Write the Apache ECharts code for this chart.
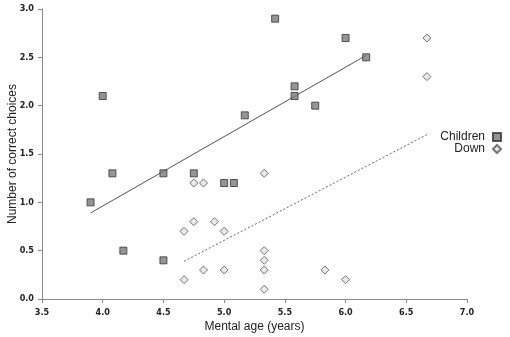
<!DOCTYPE html>
<html>
<head>
<meta charset="utf-8">
<script src="https://cdn.jsdelivr.net/npm/echarts@6/dist/echarts.min.js"></script>
<style>
  html, body { margin: 0; padding: 0; background: #fff; }
  #chart { width: 510px; height: 337px; }
</style>
</head>
<body>
<div id="chart"></div>
<script>
// children: [mental age, correct choices]
const childrenPts = [
  [3.9, 1.0], [4.0, 2.1], [4.08, 1.3], [4.17, 0.5], [4.5, 1.3], [4.5, 0.4],
  [4.75, 1.3], [5.0, 1.2], [5.08, 1.2], [5.17, 1.9], [5.42, 2.9], [5.58, 2.1],
  [5.58, 2.2], [5.75, 2.0], [6.0, 2.7], [6.17, 2.5]
];
// Down syndrome group
const downPts = [
  [4.67, 0.7], [4.67, 0.2], [4.75, 1.2], [4.75, 0.8], [4.83, 1.2], [4.83, 0.3],
  [4.92, 0.8], [5.0, 0.7], [5.0, 0.3], [5.33, 1.3], [5.33, 0.5], [5.33, 0.4],
  [5.33, 0.3], [5.33, 0.1], [5.83, 0.3], [6.0, 0.2], [6.67, 2.7], [6.67, 2.3]
];
// fitted lines (end points)
const childrenFit = [[3.9, 0.89], [6.17, 2.52]];
const downFit = [[4.67, 0.39], [6.67, 1.70]];

const chart = echarts.init(document.getElementById("chart"));

const labelStyle = {
  color: "#222", fontFamily: "DejaVu Sans Condensed", fontWeight: "bold", fontSize: 9,
  formatter: v => v.toFixed(1)
};

const axisCommon = {
  axisLine: { lineStyle: { color: "#8a8a8a", width: 1 } },
  axisTick: { show: true, length: 4, lineStyle: { color: "#8a8a8a" } },
  splitLine: { show: false },
  nameMoveOverlap: false,
  nameTextStyle: { color: "#222", fontFamily: "Liberation Sans", fontSize: 12 }
};

chart.setOption({
  animation: false,
  backgroundColor: "#fff",
  grid: { left: 42, right: 43, top: 9, bottom: 38, outerBoundsMode: "none", containLabel: false },
  legend: {
    orient: "vertical",
    right: 3,
    top: 126,
    align: "right",
    itemWidth: 8,
    itemHeight: 8,
    itemGap: 0,
    textStyle: { color: "#222", fontFamily: "Liberation Sans", fontSize: 12, padding: [0, 3, 0, 0] },
    data: ["Children", "Down"]
  },
  xAxis: Object.assign({}, axisCommon, {
    type: "value", min: 3.5, max: 7, interval: 0.5,
    axisLabel: Object.assign({ margin: 9 }, labelStyle),
    name: "Mental age (years)", nameLocation: "middle", nameGap: 22
  }),
  yAxis: Object.assign({}, axisCommon, {
    type: "value", min: 0, max: 3, interval: 0.5,
    axisLabel: Object.assign({ margin: 8 }, labelStyle),
    name: "Number of correct choices", nameLocation: "middle", nameGap: 23
  }),
  series: [
    {
      name: "Down fit", type: "line", data: downFit, symbol: "none", silent: true,
      lineStyle: { color: "#666", width: 1, type: [2, 2] }, z: 1
    },
    {
      name: "Children fit", type: "line", data: childrenFit, symbol: "none", silent: true,
      lineStyle: { color: "#555", width: 1 }, z: 1
    },
    {
      name: "Children", type: "scatter", data: childrenPts, symbol: "rect", symbolSize: 7,
      itemStyle: { color: "#7a7a7a", borderColor: "#333", borderWidth: 1 }, z: 3
    },
    {
      name: "Down", type: "scatter", data: downPts, symbol: "diamond", symbolSize: 8,
      itemStyle: { color: "#e4e4e4", borderColor: "#555", borderWidth: 1 }, z: 2
    }
  ]
});
</script>
</body>
</html>
